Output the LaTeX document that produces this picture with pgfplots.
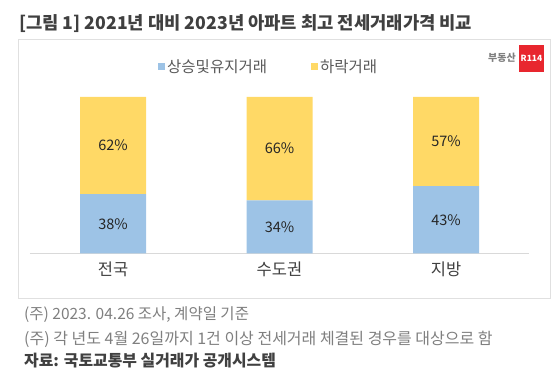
\documentclass[border=0pt]{standalone}
\usepackage{pgfplots}
\pgfplotsset{compat=1.18}
\usepackage{fontspec}
\setmainfont{Noto Sans CJK KR}
\definecolor{cblue}{HTML}{9DC3E6}
\definecolor{cyel}{HTML}{FFD966}
\definecolor{tdark}{HTML}{404040}
\definecolor{tgray}{HTML}{7F7F7F}
\definecolor{lgray}{HTML}{595959}
\definecolor{lred}{HTML}{E8262E}
\tikzset{pct/.style={text=black!85,font=\fontsize{14.5}{16}\selectfont}}
\begin{document}
\begin{tikzpicture}[x=1pt,y=1pt]
\useasboundingbox (0,0) rectangle (559,380);
% title
\node[anchor=west,inner sep=0pt,text=tdark,font=\fontsize{17.7}{21}\selectfont\bfseries] at (19,356) {[그림 1] 2021년 대비 2023년 아파트 최고 전세거래가격 비교};
% frame
\draw[black!12,line width=0.8pt] (18,82) rectangle (550,341);
% logo
\fill[lred] (519,308) rectangle (544,335);
\node[text=white,font=\fontsize{8.5}{9}\selectfont\bfseries,inner sep=0pt] at (531.5,321.5) {R114};
\node[text=gray,font=\fontsize{10}{11}\selectfont\bfseries,inner sep=0pt,anchor=east] at (516,322) {부동산};
\begin{axis}[
  at={(29.75pt,126.5pt)}, anchor=south west,
  scale only axis, width=499.5pt, height=156.5pt,
  xmin=-0.5, xmax=2.5, ymin=0, ymax=100,
  ybar stacked, bar width=66pt,
  hide y axis,
  axis x line*=bottom,
  x axis line style={black!15,line width=0.8pt},
  xtick={0,1,2}, xticklabels={전국,수도권,지방},
  major tick length=0pt,
  xticklabel style={text=tdark,font=\fontsize{16.5}{18}\selectfont,yshift=-5pt},
  legend style={at={(0.2568,1.192)},anchor=west,draw=none,fill=none,inner sep=0pt,
    legend columns=2,font=\fontsize{15.5}{17}\selectfont,text=lgray,
    /tikz/every even column/.append style={column sep=42pt}},
  legend image code/.code={\fill[#1] (0pt,-3.5pt) rectangle (7pt,3.5pt);},
  clip=false,
]
\addplot[fill=cblue,draw=none] coordinates {(0,38) (1,34) (2,43)};
\addlegendentry{상승및유지거래}
\addplot[fill=cyel,draw=none] coordinates {(0,62) (1,66) (2,57)};
\addlegendentry{하락거래}
\coordinate (b1) at (axis cs:0,19);
\coordinate (b2) at (axis cs:1,17);
\coordinate (b3) at (axis cs:2,21.5);
\coordinate (y1) at (axis cs:0,69);
\coordinate (y2) at (axis cs:1,67);
\coordinate (y3) at (axis cs:2,71.5);
\end{axis}
\node[pct] at (b1) {38\%};
\node[pct] at (b2) {34\%};
\node[pct] at (b3) {43\%};
\node[pct] at (y1) {62\%};
\node[pct] at (y2) {66\%};
\node[pct] at (y3) {57\%};
% footnotes
\node[anchor=west,inner sep=0pt,text=tgray,font=\fontsize{15.5}{17}\selectfont] at (24,65) {(주) 2023. 04.26 조사, 계약일 기준};
\node[anchor=west,inner sep=0pt,text=tgray,font=\fontsize{16}{18}\selectfont] at (24,41) {(주) 각 년도 4월 26일까지 1건 이상 전세거래 체결된 경우를 대상으로 함};
\node[anchor=west,inner sep=0pt,text=tdark,font=\fontsize{15.9}{17}\selectfont\bfseries] at (24,19) {자료: 국토교통부 실거래가 공개시스템};
\end{tikzpicture}
\end{document}
